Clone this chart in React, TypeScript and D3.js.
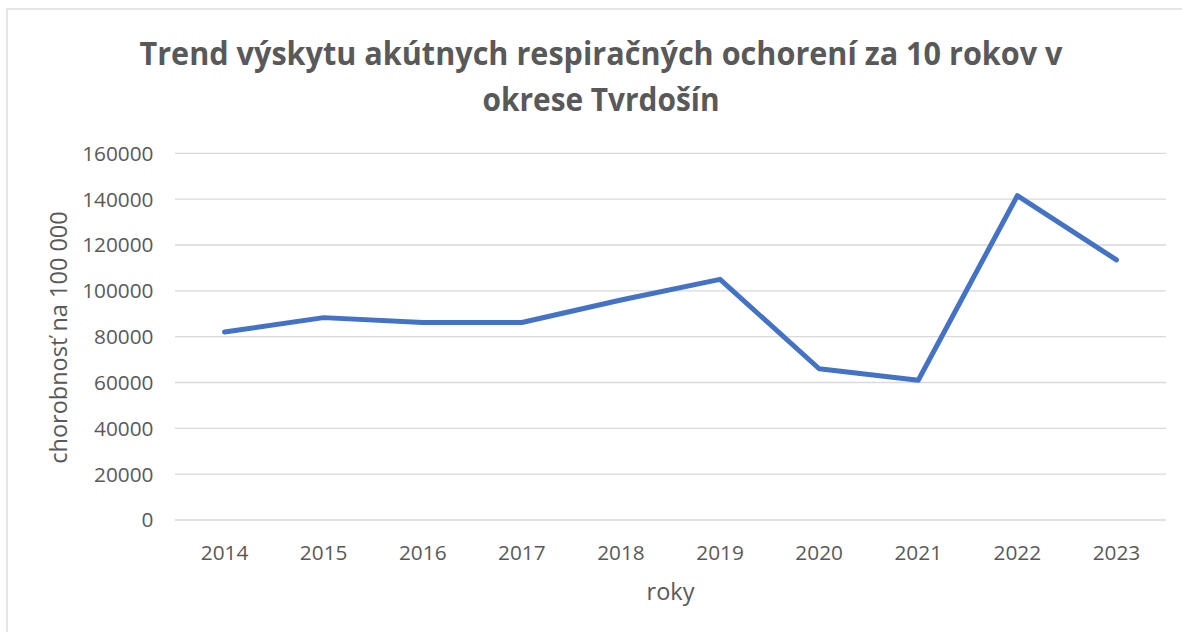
import React from "react";
import * as d3 from "d3";

const years = ["2014", "2015", "2016", "2017", "2018", "2019", "2020", "2021", "2022", "2023"];
const values = [82000, 88300, 86200, 86200, 96000, 105000, 66000, 61000, 141500, 113500];
const yTicks = [0, 20000, 40000, 60000, 80000, 100000, 120000, 140000, 160000];
const titleLines = ["Trend výskytu akútnych respiračných ochorení za 10 rokov v", "okrese Tvrdošín"];
const yTitle = "chorobnosť na 100 000";
const xTitle = "roky";

export default function App() {
  const W = 1182, H = 632;
  const left = 175, right = 1166, top = 153.3, bottom = 520;
  const x = d3.scaleBand<string>().domain(years).range([left, right]).padding(0);
  const y = d3.scaleLinear().domain([0, 160000]).range([bottom, top]);
  const line = d3
    .line<number>()
    .x((_, i) => (x(years[i]) as number) + x.bandwidth() / 2)
    .y((v) => y(v));
  const txt = "#595959";
  const font = "'Open Sans', sans-serif";
  const titleWidths = [923, 237];
  const titleBase = [65, 111];
  return (
    <svg width={W} height={H} style={{ position: "fixed", left: 0, top: 0, background: "#fff" }}>
      <rect x={0} y={0} width={W} height={H} fill="#fff" />
      <rect x={7} y={9} width={1200} height={700} fill="none" stroke="#d9d9d9" strokeWidth={1.3} />
      {titleLines.map((t, i) => (
        <text
          key={i}
          x={601}
          y={titleBase[i]}
          textAnchor="middle"
          fontFamily={font}
          fontWeight={700}
          fontSize={31.5}
          fill={txt}
          textLength={titleWidths[i]}
          lengthAdjust="spacingAndGlyphs"
        >
          {t}
        </text>
      ))}
      {yTicks.map((t) => (
        <g key={t}>
          <line x1={left} x2={right} y1={y(t)} y2={y(t)} stroke="#d9d9d9" strokeWidth={1.3} />
          <text
            x={153.5}
            y={y(t)}
            dy={7.4}
            textAnchor="end"
            fontFamily={font}
            fontSize={20.8}
            fill={txt}
          >
            {t}
          </text>
        </g>
      ))}
      {years.map((yr) => (
        <text
          key={yr}
          x={(x(yr) as number) + x.bandwidth() / 2}
          y={559.5}
          textAnchor="middle"
          fontFamily={font}
          fontSize={20.8}
          fill={txt}
        >
          {yr}
        </text>
      ))}
      <path
        d={line(values) || ""}
        fill="none"
        stroke="#4472C4"
        strokeWidth={5}
        strokeLinejoin="round"
        strokeLinecap="round"
      />
      <text
        x={670.5}
        y={600}
        textAnchor="middle"
        fontFamily={font}
        fontSize={23.5}
        fill={txt}
      >
        {xTitle}
      </text>
      <text
        transform="translate(66.5,337.5) rotate(-90)"
        textAnchor="middle"
        fontFamily={font}
        fontSize={23.5}
        fill={txt}
      >
        {yTitle}
      </text>
    </svg>
  );
}
